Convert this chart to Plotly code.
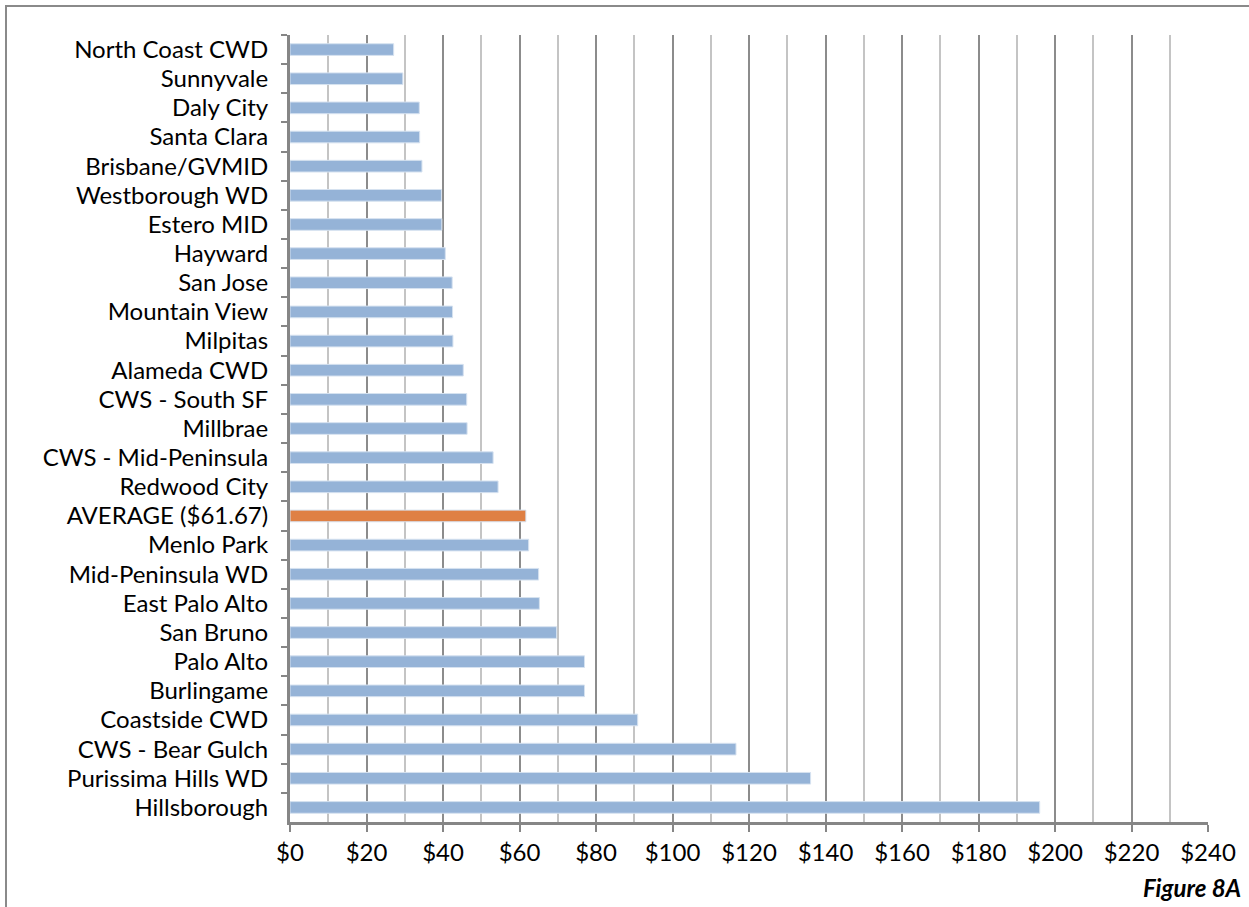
import plotly.graph_objects as go

# Categories, top to bottom as shown
names = [
    "North Coast CWD", "Sunnyvale", "Daly City", "Santa Clara", "Brisbane/GVMID",
    "Westborough WD", "Estero MID", "Hayward", "San Jose", "Mountain View",
    "Milpitas", "Alameda CWD", "CWS - South SF", "Millbrae", "CWS - Mid-Peninsula",
    "Redwood City", "AVERAGE ($61.67)", "Menlo Park", "Mid-Peninsula WD",
    "East Palo Alto", "San Bruno", "Palo Alto", "Burlingame", "Coastside CWD",
    "CWS - Bear Gulch", "Purissima Hills WD", "Hillsborough",
]
values = [
    27.1, 29.5, 33.8, 33.9, 34.5,
    39.6, 39.7, 40.6, 42.4, 42.5,
    42.6, 45.3, 46.2, 46.3, 53.1,
    54.4, 61.67, 62.4, 65.0,
    65.2, 69.7, 77.0, 77.0, 90.9,
    116.6, 136.1, 196.0,
]
x_tickvals = list(range(0, 241, 20))
x_ticktext = ["$" + str(v) for v in x_tickvals]

BLUE = "#95B3D7"
ORANGE = "#DF8044"
colors = [ORANGE if n.startswith("AVERAGE") else BLUE for n in names]

FONT = "Lato, 'Noto Sans', sans-serif"

fig = go.Figure()
fig.add_trace(go.Bar(
    y=names, x=values, orientation="h",
    marker=dict(color=colors, line=dict(color="#D6E2F0", width=1)),
    width=0.40,
    hoverinfo="x+y",
))

W, H = 1249, 907
L, R, T, B = 290, 41, 35, 85
pw, ph = W - L - R, H - T - B

fig.update_layout(
    width=W, height=H,
    margin=dict(l=L, r=R, t=T, b=B, pad=0),
    paper_bgcolor="white", plot_bgcolor="white",
    showlegend=False,
    font=dict(family=FONT, size=24, color="#000000"),
    xaxis=dict(
        range=[0, 240], tickvals=x_tickvals, ticktext=x_ticktext,
        showgrid=True, gridcolor="#8C8C8C", gridwidth=2,
        minor=dict(dtick=10, tick0=0, showgrid=True, gridcolor="#C4C4C4", gridwidth=2),
        showline=True, linecolor="#868686", linewidth=3,
        ticks="outside", ticklen=7, tickwidth=2, tickcolor="#868686",
        tickfont=dict(family=FONT, size=24, color="#000"),
        zeroline=False, fixedrange=True,
    ),
    yaxis=dict(
        type="category", categoryorder="array", categoryarray=names,
        autorange="reversed",
        showline=True, linecolor="#868686", linewidth=3,
        ticks="outside", ticklen=6, tickwidth=2, tickcolor="#868686",
        tickson="boundaries",
        ticklabelstandoff=14,
        tickfont=dict(family=FONT, size=24, color="#000"),
        showgrid=False, zeroline=False, fixedrange=True,
    ),
    shapes=[dict(
        type="rect", xref="paper", yref="paper",
        x0=(6 - L) / pw, x1=(W + 20 - L) / pw,
        y0=(H - B - (H + 20)) / ph, y1=(H - B - 6) / ph,
        line=dict(color="#8A8A8A", width=2), fillcolor="rgba(0,0,0,0)", layer="below",
    )],
    annotations=[dict(
        text="<b><i>Figure 8A</i></b>", xref="paper", yref="paper",
        x=(1243 - L) / pw, y=(H - B - 887) / ph, xanchor="right", yanchor="middle",
        showarrow=False, font=dict(family=FONT, size=24, color="#000"),
    )],
)

fig.write_html("out.html", config={"displayModeBar": False},
               post_script="document.body.style.margin='0';")
